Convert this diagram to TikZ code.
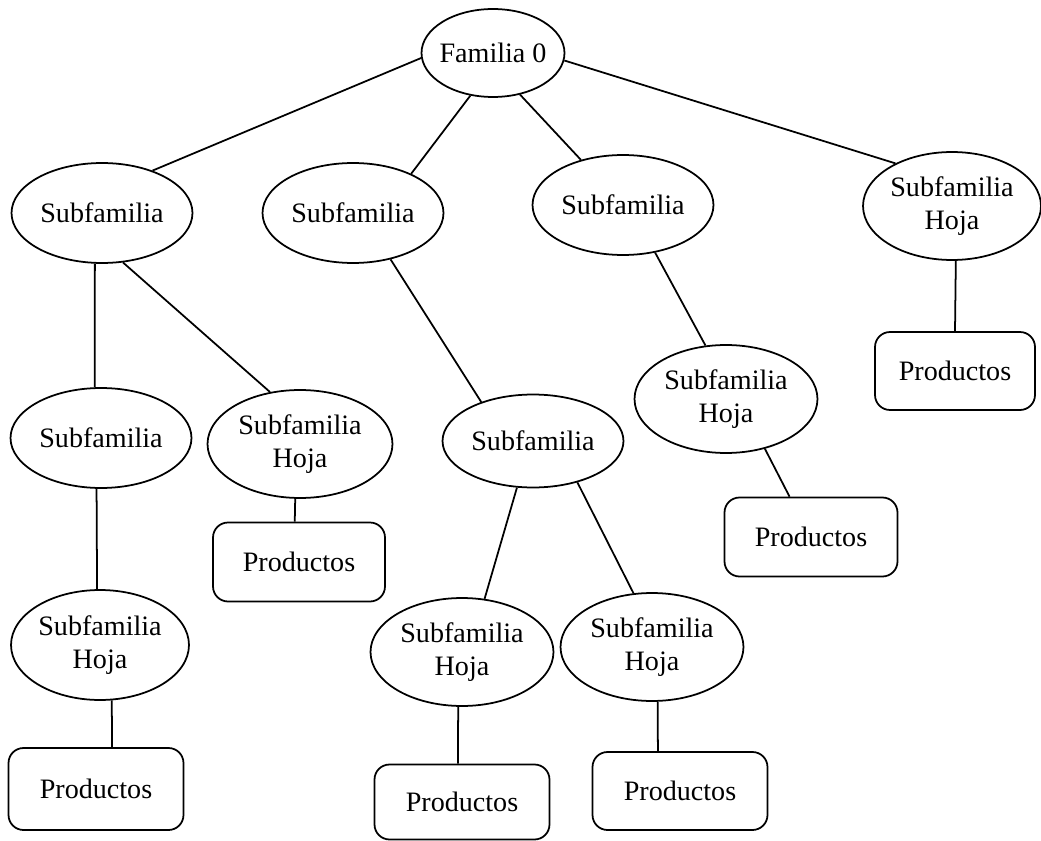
\documentclass[tikz,border=0pt]{standalone}
\usepackage{fontspec}
\setmainfont{Liberation Serif}
\usetikzlibrary{shapes.geometric}

\begin{document}
\begin{tikzpicture}[x=0.02cm, y=-0.02cm, line width=1pt,
		every node/.style={font=\fontsize{16}{19}\selectfont, align=center},
		fam/.style={draw, ellipse, inner xsep=-4pt, inner ysep=0pt, minimum width=3.62cm, minimum height=2cm},
		hoja/.style={fam, minimum width=3.66cm, minimum height=2.16cm},
		prod/.style={draw, rectangle, rounded corners=0.3cm, minimum width=3.5cm, minimum height=1.58cm}]
			\useasboundingbox (0,0) rectangle (1041,841);
			
			% Radice
			\node[fam, minimum width=2.86cm, minimum height=1.76cm] (f0) at (493,53) {Familia 0};
			
			% Primo livello
			\node[fam] (sA) at (102,213) {Subfamilia};
			\node[fam] (sB) at (353,213) {Subfamilia};
			\node[fam] (sC) at (623,205) {Subfamilia};
			\node[hoja, minimum width=3.56cm] (hD) at (952,206) {Subfamilia\\Hoja};
			
			% Secondo livello
			\node[fam] (sA1) at (101,438) {Subfamilia};
			\node[hoja, minimum width=3.7cm] (hA2) at (300,444) {Subfamilia\\Hoja};
			\node[fam, minimum height=1.86cm] (sB1) at (533,441) {Subfamilia};
			\node[hoja] (hC) at (726,399) {Subfamilia\\Hoja};
			
			% Foglie
			\node[hoja, minimum width=3.56cm, minimum height=2.2cm] (hA1) at (100,645) {Subfamilia\\Hoja};
			\node[hoja] (hB1) at (462,652) {Subfamilia\\Hoja};
			\node[hoja] (hB2) at (652,647) {Subfamilia\\Hoja};
			
			% Prodotti
			\node[prod, minimum height=1.64cm] (pA1) at (96,789) {Productos};
			\node[prod, minimum width=3.44cm] (pA2) at (299,562) {Productos};
			\node[prod, minimum height=1.5cm] (pB1) at (462,802) {Productos};
			\node[prod, minimum height=1.56cm] (pB2) at (680,791) {Productos};
			\node[prod, minimum width=3.46cm] (pC) at (811,537) {Productos};
			\node[prod, minimum width=3.2cm, minimum height=1.56cm] (pD) at (955,371) {Productos};
			
			% Collegamenti
			\foreach \a/\b in {f0.184/sA.40, f0.242/sB.34, f0.303/sC.133, f0.354/hD.143,
				sA.262/sA1.97, sA.293/hA2.120, sA1.265/hA1.93, hA1.282/pA1.69,
				hA2.265/pA2.96, sB.309/sB1.143, sB1.251/hB1.67, sB1.317/hB2.109,
				hB1.266/pB1.96, hB2.276/pB2.119, sC.304/hC.111, hC.308/pC.118, hD.274/pD.90}
				\draw (\a) -- (\b);
		\end{tikzpicture}
\end{document}
